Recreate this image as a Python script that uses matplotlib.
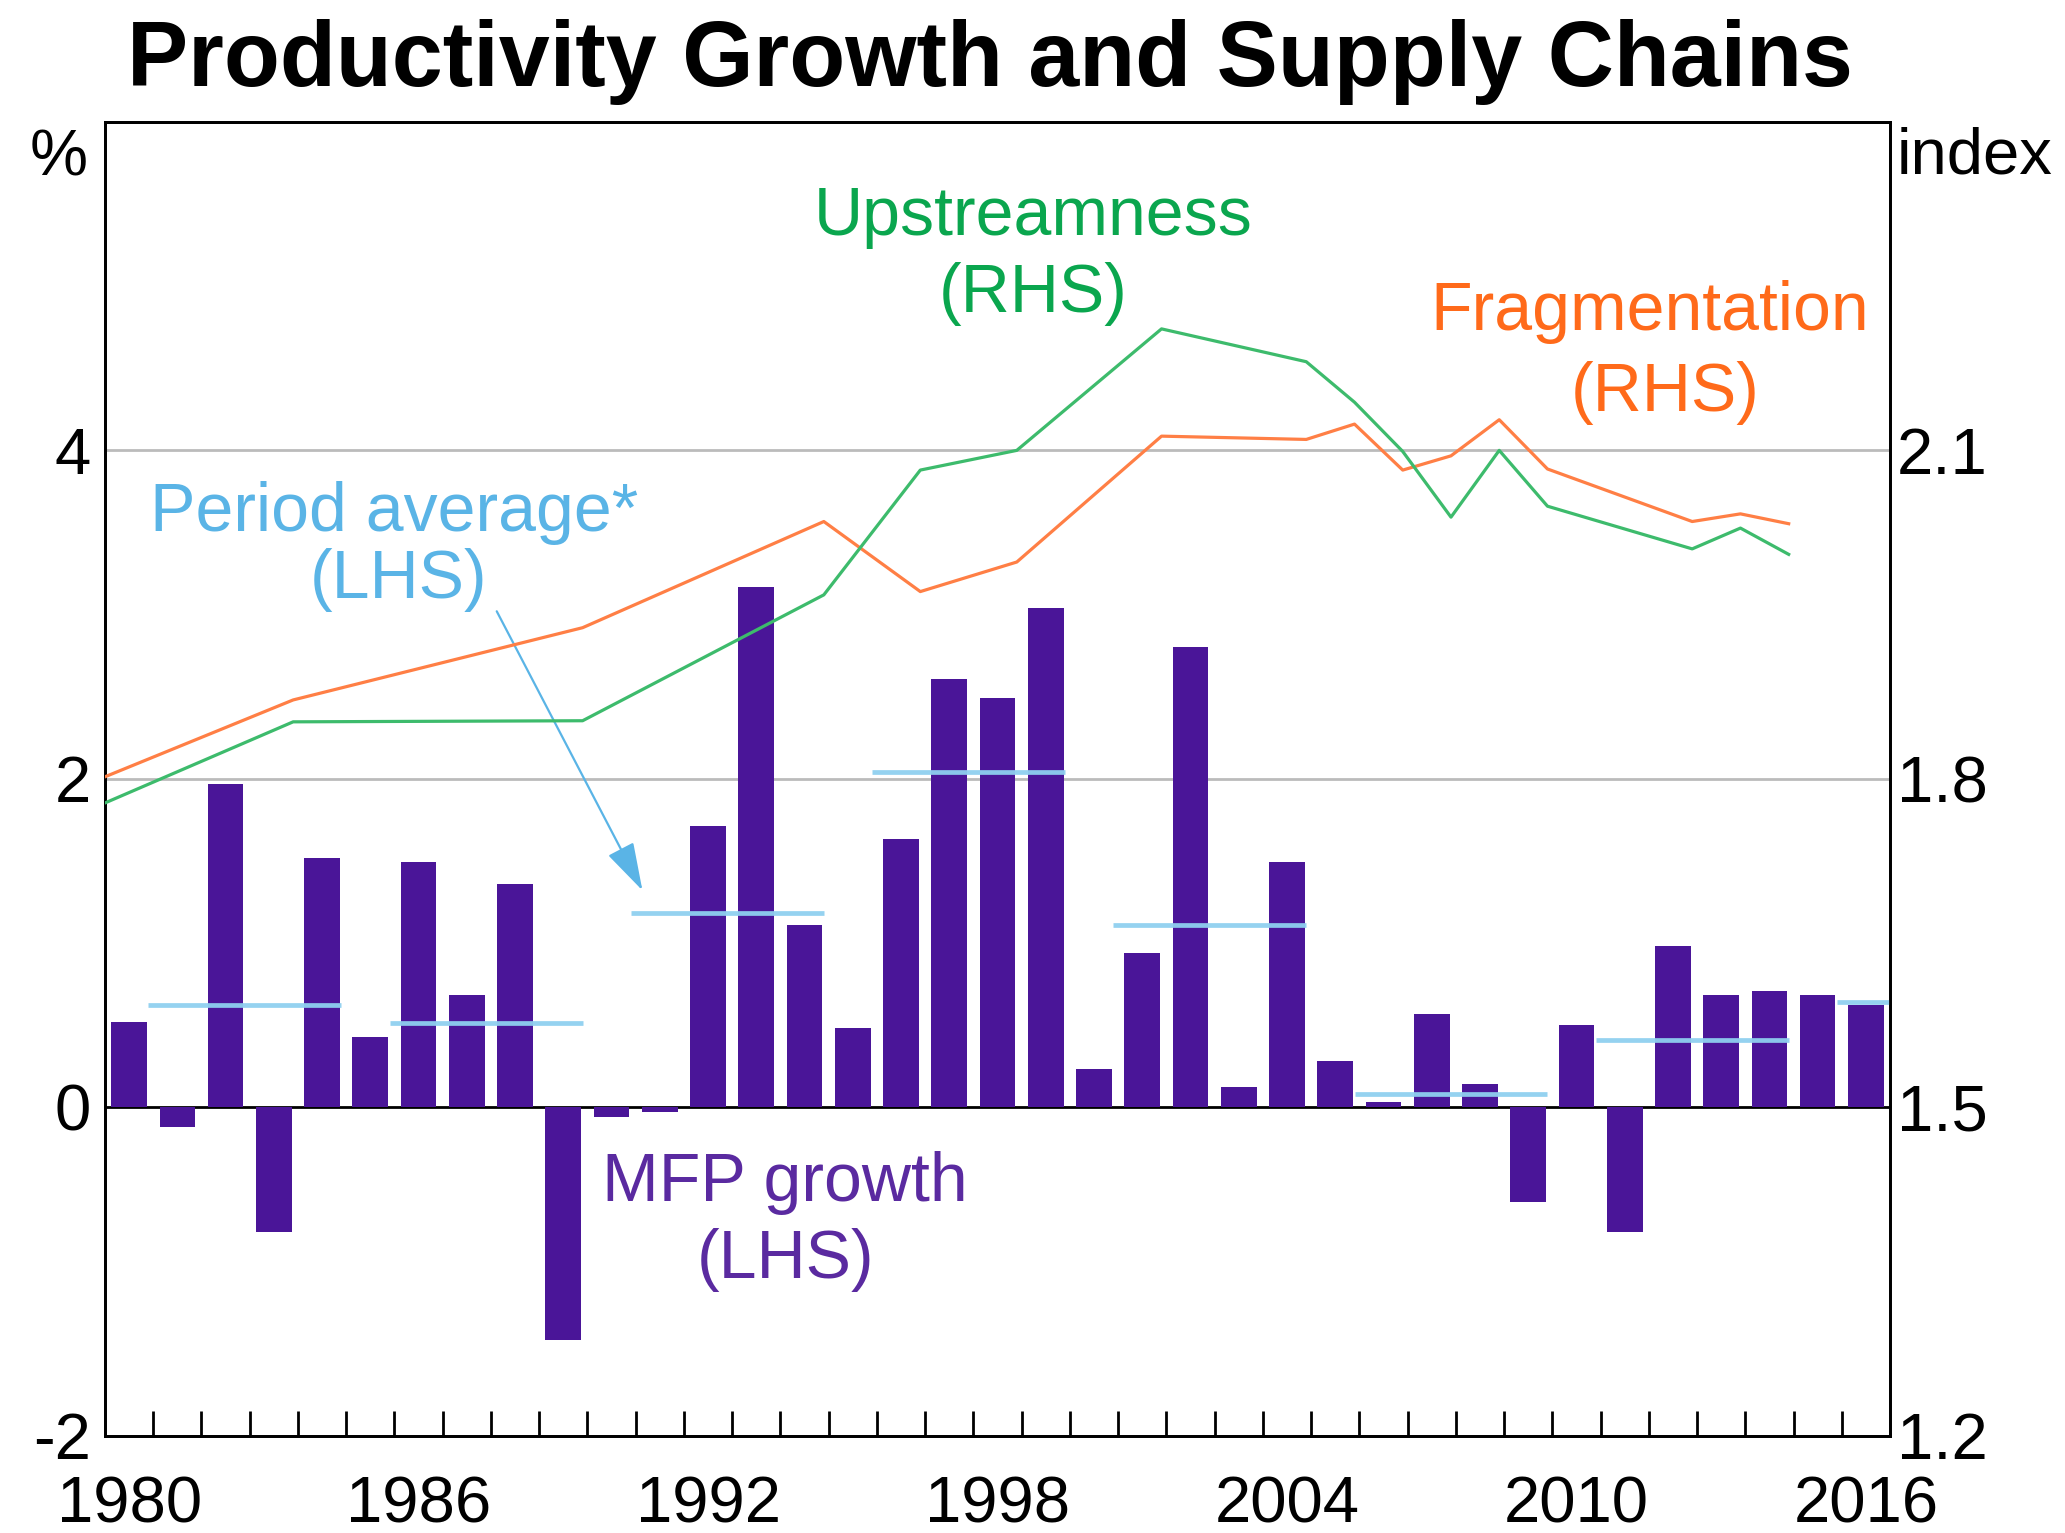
import matplotlib
matplotlib.use("Agg")
import matplotlib.pyplot as plt
import numpy as np

# ---------------- data ----------------
years = list(range(1980, 2017))
mfp_growth = [0.52, -0.12, 1.97, -0.76, 1.52, 0.43, 1.49, 0.68, 1.36, -1.42,
              -0.06, -0.03, 1.71, 3.17, 1.11, 0.48, 1.63, 2.61, 2.49, 3.04,
              0.23, 0.94, 2.80, 0.12, 1.49, 0.28, 0.03, 0.57, 0.14, -0.58,
              0.50, -0.76, 0.98, 0.68, 0.71, 0.68, 0.62]

period_start = [1980, 1985, 1990, 1995, 2000, 2005, 2010, 2015]
period_end = [1984, 1989, 1994, 1999, 2004, 2009, 2014, 2019]
period_avg = [0.62, 0.51, 1.18, 2.04, 1.11, 0.08, 0.41, 0.64]

line_years = [1979, 1983, 1989, 1994, 1996, 1998, 2001, 2004, 2005, 2006,
              2007, 2008, 2009, 2012, 2013, 2014]
fragmentation = [1.800, 1.872, 1.938, 2.035, 1.971, 1.998, 2.113, 2.110, 2.124, 2.082,
                 2.095, 2.128, 2.083, 2.035, 2.042, 2.033]
upstreamness = [1.776, 1.852, 1.853, 1.968, 2.082, 2.100, 2.211, 2.181, 2.144, 2.099,
                2.039, 2.100, 2.049, 2.010, 2.029, 2.005]

xtick_years = [1980, 1986, 1992, 1998, 2004, 2010, 2016]
lhs_ticks = [-2, 0, 2, 4]
rhs_ticks = [1.2, 1.5, 1.8, 2.1]

# ---------------- style ----------------
BAR = '#4A1598'
ORANGE_L = '#FF7F45'
ORANGE_T = '#FF6A1A'
GREEN_L = '#3DBB6C'
GREEN_T = '#0AA64E'
AVG_L = '#8FD0F0'
AVG_T = '#5AB4E6'
MFP_T = '#5A2AA0'

SANS = ['Liberation Sans', 'Arial', 'DejaVu Sans']
plt.rcParams['font.family'] = SANS

fig = plt.figure(figsize=(20.65, 15.33), dpi=100)
ax = fig.add_axes([105 / 2065, 1 - 1435.5 / 1533, (1890 - 105) / 2065, (1435.5 - 122) / 1533])

xmin, xmax = 1979.5, 2016.5
ax.set_xlim(xmin, xmax)
ax.set_ylim(-2, 6)

# grid lines
for g in [2, 4]:
    ax.axhline(g, color='#BBBBBB', lw=2.0, zorder=0)
ax.axhline(0, color='black', lw=2.0, zorder=1)

# bars
ax.bar(years, mfp_growth, width=0.74, color=BAR, zorder=2)

# period averages
for s, e, v in zip(period_start, period_end, period_avg):
    ax.plot([s + 0.4, min(e + 0.4, xmax)], [v, v], color=AVG_L, lw=3.4,
            solid_capstyle='butt', zorder=3, alpha=0.95)

# RHS lines
ax2 = ax.twinx()
ax2.set_ylim(1.2, 2.4)
lx = [y + 0.4 for y in line_years]
ax2.plot(lx, fragmentation, color=ORANGE_L, lw=2.3, zorder=4)
ax2.plot(lx, upstreamness, color=GREEN_L, lw=2.3, zorder=4)
ax2.set_xlim(xmin, xmax)

# axes ticks
ax.set_xticks(xtick_years)
ax.set_xticklabels([str(y) for y in xtick_years])
ax.set_xticks(np.arange(1980.5, 2016.0, 1.0), minor=True)
ax.tick_params(axis='x', which='major', length=0, pad=29, labelsize=47)
ax.tick_params(axis='x', which='minor', direction='in', length=18, width=2.0, color='black')
ax.set_yticks(lhs_ticks)
ax.set_yticklabels(['-2', '0', '2', '4'])
ax.tick_params(axis='y', length=0, pad=10, labelsize=47)
ax2.set_yticks(rhs_ticks)
ax2.set_yticklabels(['1.2', '1.5', '1.8', '2.1'])
ax2.tick_params(axis='y', length=0, pad=5, labelsize=47)

for a in (ax, ax2):
    for sp in a.spines.values():
        sp.set_linewidth(2.0)
        sp.set_color('black')

# unit labels
fig.text(59 / 2065, 1 - 158 / 1533, '%', fontsize=47, ha='center', va='center')
fig.text(1897 / 2065, 1 - 156 / 1533, 'index', fontsize=47, ha='left', va='center')

# title
fig.text(990 / 2065, 1 - 62 / 1533, 'Productivity Growth and Supply Chains',
         fontsize=66, fontweight='bold', ha='center', va='center')

# annotations
fs = 49
ax.text(1998.75, 5.42, 'Upstreamness', color=GREEN_T, fontsize=fs, ha='center', va='center')
ax.text(1998.75, 4.95, '(RHS)', color=GREEN_T, fontsize=fs, ha='center', va='center')
ax.text(2011.52, 4.84, 'Fragmentation', color=ORANGE_T, fontsize=fs, ha='center', va='center')
ax.text(2011.85, 4.35, '(RHS)', color=ORANGE_T, fontsize=fs, ha='center', va='center')
ax.text(1985.5, 3.62, 'Period average*', color=AVG_T, fontsize=fs, ha='center', va='center')
ax.text(1985.58, 3.21, '(LHS)', color=AVG_T, fontsize=fs, ha='center', va='center')
ax.text(1993.59, -0.465, 'MFP growth', color=MFP_T, fontsize=fs, ha='center', va='center')
ax.text(1993.6, -0.93, '(LHS)', color=MFP_T, fontsize=fs, ha='center', va='center')

ax.annotate('', xy=(1990.64, 1.32), xytext=(1987.62, 3.02),
            arrowprops=dict(arrowstyle='-|>,head_length=1.5,head_width=0.45',
                            mutation_scale=20, color=AVG_T, lw=1.6,
                            shrinkA=0, shrinkB=0), zorder=5)

fig.savefig('out.png', dpi=100)
